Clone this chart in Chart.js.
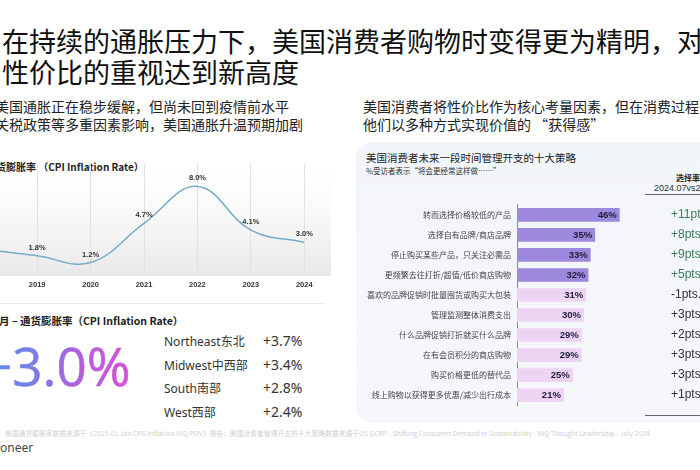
<!DOCTYPE html>
<html>
<head>
<meta charset="utf-8">
<script src="https://cdn.jsdelivr.net/npm/chart.js@4.4.1/dist/chart.umd.min.js"></script>
<style>
  html, body { margin: 0; padding: 0; }
  body {
    width: 700px; height: 470px; overflow: hidden; position: relative;
    background: #fff; font-family: "Noto Sans CJK SC", "Noto Sans", sans-serif; color: #222;
  }
  .abs { position: absolute; white-space: nowrap; }
  #title { left: 2px; top: 25px; font-size: 27px; line-height: 31px; color: #111; }
  .sub { font-size: 14px; line-height: 18px; color: #222; }
  #cpiTitle { left: -14px; top: 159px; font-size: 10px; font-weight: bold; color: #222; }
  #lineWrap { left: -43px; top: 164px; width: 374px; height: 129px; }
  #sep { left: 0; top: 303px; width: 325px; height: 1px; background: #eaeaea; }
  #monthTitle { left: -1px; top: 313px; font-size: 10.5px; font-weight: bold; color: #222; }
  #bigNum {
    left: -18px; top: 339px; font-family: "Open Sans", sans-serif; font-size: 53px; line-height: 54px;
    -webkit-text-stroke: 0.6px transparent;
    background: linear-gradient(90deg, #4f8fe8 0%, #7b7ce6 35%, #b160de 65%, #d84fd6 100%);
    -webkit-background-clip: text; background-clip: text; color: transparent;
  }
  .regName { left: 164px; font-family: "Noto Sans", "Noto Sans CJK SC", sans-serif; font-size: 12px; color: #333; }
  .regVal { left: 263px; font-family: "Noto Sans", sans-serif; font-size: 14px; color: #333; }
  #panel {
    left: 356px; top: 142px; width: 400px; height: 281px; border-radius: 16px;
    background: linear-gradient(180deg, #f2f5fa, #f5f7fb);
  }
  #panelTitle { left: 366px; top: 150px; font-size: 10.5px; color: #222; }
  #panelSub { left: 366px; top: 165px; font-size: 7.5px; color: #333; }
  #barWrap { left: 360px; top: 194px; width: 340px; height: 222px; }
  #chgHead { left: 676px; top: 172px; font-size: 8px; font-weight: bold; color: #222; }
  #chgSub { left: 654px; top: 183px; font-family: "Liberation Sans", sans-serif; font-size: 9px; color: #333; }
  .rule { left: 645px; width: 80px; height: 1px; background: #666; }
  #foot { left: 5px; top: 428px; font-size: 6.8px; color: #cfcfcf; }
  #logo { left: 0; top: 439px; font-family: "Noto Sans", sans-serif; font-size: 12px; color: #444; }
</style>
</head>
<body>
<div class="abs" id="title">在持续的通胀压力下，美国消费者购物时变得更为精明，对<br>性价比的重视达到新高度</div>

<div class="abs sub" style="left:-5px; top:97px;">美国通胀正在稳步缓解，但尚未回到疫情前水平<br>关税政策等多重因素影响，美国通胀升温预期加剧</div>
<div class="abs sub" style="left:363px; top:97px;">美国消费者将性价比作为核心考量因素，但在消费过程中<br>他们以多种方式实现价值的 “获得感”</div>

<div class="abs" id="cpiTitle">通货膨胀率 （CPI Inflation Rate）</div>
<div class="abs" id="lineWrap"><canvas id="lineChart"></canvas></div>
<div class="abs" id="sep"></div>
<div class="abs" id="monthTitle">月 – 通货膨胀率（CPI Inflation Rate）</div>
<div class="abs" id="bigNum">+3.0%</div>
<div id="regions"></div>

<div class="abs" id="panel"></div>
<div class="abs" id="panelTitle">美国消费者未来一段时间管理开支的十大策略</div>
<div class="abs" id="panelSub">%受访者表示“将会更经常这样做……”</div>
<div class="abs" id="chgHead">选择率变化</div>
<div class="abs" id="chgSub">2024.07vs2023.07</div>
<div class="abs rule" style="top:194px;"></div>
<div class="abs rule" style="top:415px;"></div>
<div class="abs" id="barWrap"><canvas id="barChart"></canvas></div>

<div class="abs" id="foot">美国通货膨胀率数据来源于《2025-01 Jan CPG Inflation NIQ POV》报告；美国消费者管理开支的十大策略数据来源于US GCRP - Shifting Consumer Demand in Sustainability - NIQ Thought Leadership - July 2024</div>
<div class="abs" id="logo">oneer</div>

<script>
// CPI by year
const years = ['2018', '2019', '2020', '2021', '2022', '2023', '2024']
const cpi = [2.4, 1.8, 1.2, 4.7, 8.0, 4.1, 3.0]

// regional CPI
const regionNames = ['Northeast东北', 'Midwest中西部', 'South南部', 'West西部']
const regionValues = ['+3.7%', '+3.4%', '+2.8%', '+2.4%']

// top 10 strategies
const strategies = [
  '转而选择价格较低的产品',
  '选择自有品牌/商店品牌',
  '停止购买某些产品，只关注必需品',
  '更频繁去往打折/超值/低价商店购物',
  '喜欢的品牌促销时批量囤货或购买大包装',
  '管理监测整体消费支出',
  '什么品牌促销打折就买什么品牌',
  '在有会员积分的商店购物',
  '购买价格更低的替代品',
  '线上购物以获得更多优惠/减少出行成本'
]
const shares = [46, 35, 33, 32, 31, 30, 29, 29, 25, 21]
const changes = ['+11pts.', '+8pts.', '+9pts.', '+5pts.', '-1pts.', '+3pts.', '+2pts.', '+3pts.', '+3pts.', '+1pts.']

const regionRowsY = [332, 356, 379, 403]
const regWrap = document.getElementById('regions')
regionNames.forEach((n, i) => {
  const a = document.createElement('div')
  a.className = 'abs regName'
  a.style.top = regionRowsY[i] + 'px'
  a.textContent = n
  regWrap.appendChild(a)
  const b = document.createElement('div')
  b.className = 'abs regVal'
  b.style.top = (regionRowsY[i] - 1) + 'px'
  b.textContent = regionValues[i]
  regWrap.appendChild(b)
})

// gray fade behind the line chart
const areaBg = {
  id: 'areaBg',
  beforeDraw(chart) {
    const { ctx, chartArea: a } = chart
    const g = ctx.createLinearGradient(0, a.top, 0, a.bottom)
    g.addColorStop(0, 'rgba(238,238,238,0)')
    g.addColorStop(0.3, 'rgba(238,238,238,0.2)')
    g.addColorStop(1, 'rgba(232,232,232,1)')
    ctx.save()
    ctx.fillStyle = g
    ctx.fillRect(a.left, a.top, a.right - a.left, a.bottom - a.top)
    ctx.restore()
  }
}

const pointLabels = {
  id: 'pointLabels',
  afterDatasetsDraw(chart) {
    const ctx = chart.ctx
    const meta = chart.getDatasetMeta(0)
    ctx.save()
    ctx.font = 'bold 7.5px "Liberation Sans", Arial, sans-serif'
    ctx.fillStyle = '#333'
    ctx.textAlign = 'center'
    ctx.textBaseline = 'middle'
    meta.data.forEach((p, i) => {
      ctx.fillText(cpi[i].toFixed(1) + '%', p.x, p.y - 8)
    })
    ctx.restore()
  }
}

new Chart(document.getElementById('lineChart'), {
  type: 'line',
  data: {
    labels: years,
    datasets: [{
      data: cpi,
      borderColor: '#74acc9',
      borderWidth: 1.5,
      tension: 0.4,
      pointRadius: 0,
      fill: false
    }]
  },
  options: {
    responsive: true,
    maintainAspectRatio: false,
    animation: false,
    layout: { padding: 0 },
    plugins: { legend: { display: false }, tooltip: { enabled: false } },
    scales: {
      x: {
        offset: true,
        grid: { display: true, offset: false, drawTicks: false, color: '#e2e2e2' },
        border: { display: false },
        ticks: { padding: 4, color: '#333', font: { size: 7.5, weight: 'bold', family: '"Liberation Sans", Arial, sans-serif' } }
      },
      y: { display: false, min: 0, max: 10 }
    }
  },
  plugins: [areaBg, pointLabels]
})

const barLabels = {
  id: 'barLabels',
  afterDatasetsDraw(chart) {
    const ctx = chart.ctx
    const meta = chart.getDatasetMeta(0)
    ctx.save()
    ctx.textBaseline = 'middle'
    meta.data.forEach((b, i) => {
      ctx.font = 'bold 9.5px "Liberation Sans", Arial, sans-serif'
      ctx.fillStyle = '#1e1b3b'
      ctx.textAlign = 'right'
      ctx.fillText(shares[i] + '%', b.x - 3, b.y + 0.5)
      ctx.font = '12px "Liberation Sans", Arial, sans-serif'
      ctx.fillStyle = i < 4 ? '#3d7a57' : '#333'
      ctx.textAlign = 'left'
      ctx.fillText(changes[i], 311, b.y)
    })
    ctx.restore()
  }
}

new Chart(document.getElementById('barChart'), {
  type: 'bar',
  data: {
    labels: strategies,
    datasets: [{
      data: shares,
      backgroundColor: shares.map((v, i) => i < 4 ? '#9c89dc' : '#edd4f3'),
      barPercentage: 0.68,
      categoryPercentage: 1
    }]
  },
  options: {
    indexAxis: 'y',
    responsive: true,
    maintainAspectRatio: false,
    animation: false,
    layout: { padding: 0 },
    plugins: { legend: { display: false }, tooltip: { enabled: false } },
    scales: {
      x: { display: false, min: 0, max: 82 },
      y: {
        afterFit(scale) { scale.width = 157 },
        grid: { display: false, drawTicks: false },
        border: { display: true, color: '#888', width: 1 },
        ticks: { padding: 6, color: '#444', font: { size: 8, family: '"Noto Sans CJK SC", sans-serif' } }
      }
    }
  },
  plugins: [barLabels]
})
</script>
</body>
</html>
